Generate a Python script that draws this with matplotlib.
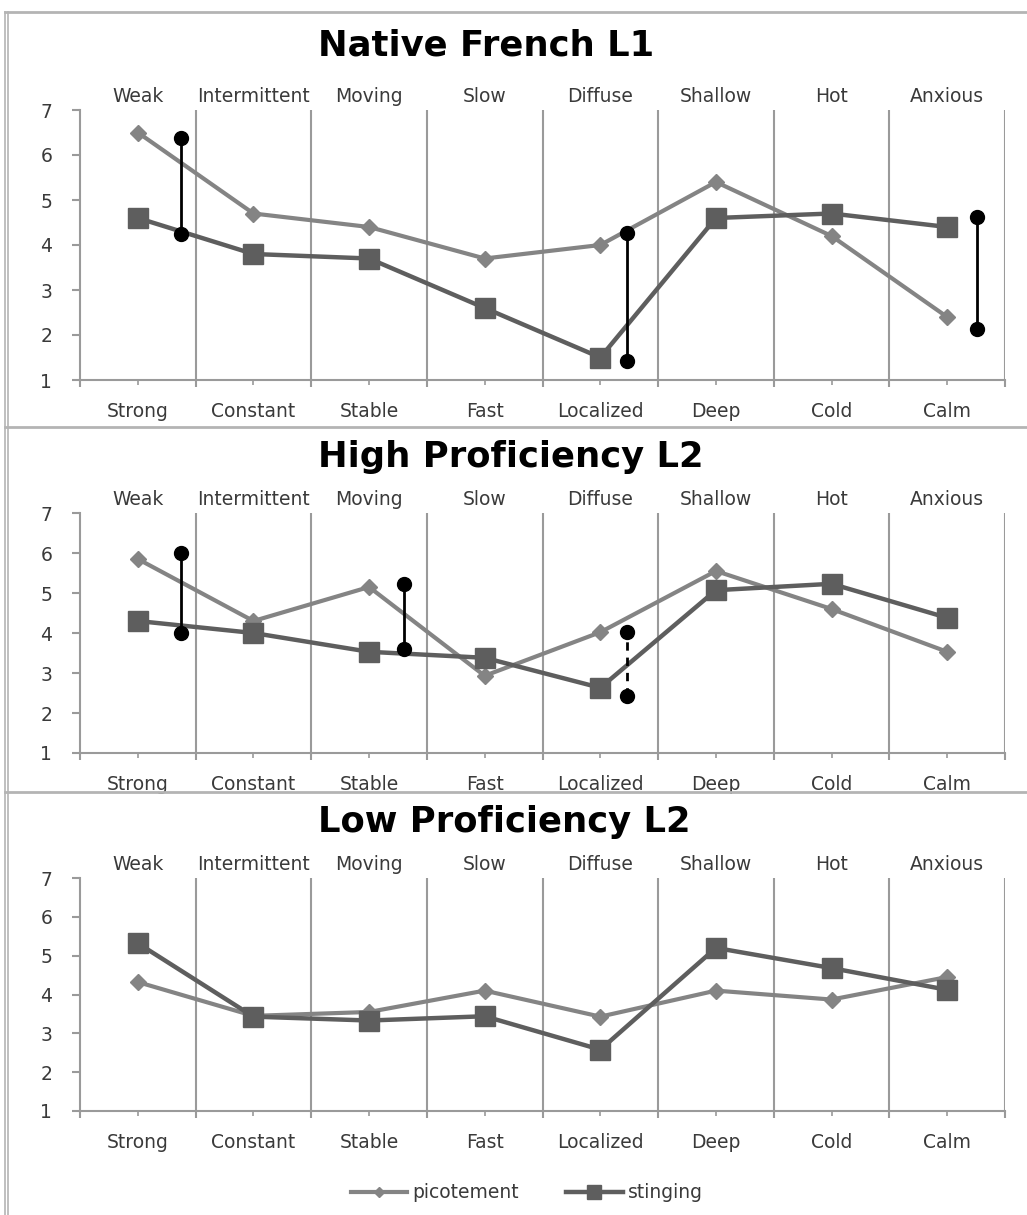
import numpy as np
import matplotlib
matplotlib.use("Agg")
import matplotlib.pyplot as plt
from matplotlib.lines import Line2D

# category labels (bottom axis / top axis)
bottom_labels = ["Strong", "Constant", "Stable", "Fast", "Localized", "Deep", "Cold", "Calm"]
top_labels = ["Weak", "Intermittent", "Moving", "Slow", "Diffuse", "Shallow", "Hot", "Anxious"]

titles = ["Native French L1", "High Proficiency L2", "Low Proficiency L2"]

# picotement values per panel
pic_native = [6.5, 4.7, 4.4, 3.7, 4.0, 5.4, 4.2, 2.4]
pic_high = [5.85, 4.3, 5.15, 2.93, 4.02, 5.55, 4.6, 3.53]
pic_low = [4.32, 3.45, 3.55, 4.1, 3.43, 4.1, 3.87, 4.45]

# stinging values per panel
sting_native = [4.6, 3.8, 3.7, 2.6, 1.5, 4.6, 4.7, 4.4]
sting_high = [4.3, 4.0, 3.53, 3.38, 2.63, 5.07, 5.23, 4.38]
sting_low = [5.32, 3.43, 3.33, 3.44, 2.58, 5.2, 4.68, 4.12]

# black difference markers: x position, low, high, dashed?
diff_native_x = [0.37, 4.23, 7.26]
diff_native_lo = [4.25, 1.43, 2.13]
diff_native_hi = [6.38, 4.26, 4.62]
diff_native_dash = [False, False, False]

diff_high_x = [0.37, 2.3, 4.23]
diff_high_lo = [4.0, 3.6, 2.42]
diff_high_hi = [6.0, 5.22, 4.02]
diff_high_dash = [False, False, True]

diff_low_x = []
diff_low_lo = []
diff_low_hi = []
diff_low_dash = []

panels = [
    (pic_native, sting_native, diff_native_x, diff_native_lo, diff_native_hi, diff_native_dash),
    (pic_high, sting_high, diff_high_x, diff_high_lo, diff_high_hi, diff_high_dash),
    (pic_low, sting_low, diff_low_x, diff_low_lo, diff_low_hi, diff_low_dash),
]

W, H = 1027, 1215
fig = plt.figure(figsize=(W / 100, H / 100), dpi=100)

# axes boxes in pixels: (top, bottom) of plot area, and title y / left x
ax_y = [(110, 380), (513, 753), (878, 1111)]
title_y = [45, 457, 822]
x0, x1 = 80, 1005

pic_color = "#848484"
sting_color = "#5e5e5e"
grid_color = "#9a9a9a"
text_color = "#3a3a3a"
lab_size = 13.5

for i, (pic, sting, dx, dlo, dhi, ddash) in enumerate(panels):
    top, bot = ax_y[i]
    ax = fig.add_axes([x0 / W, 1 - bot / H, (x1 - x0) / W, (bot - top) / H])
    xs = np.arange(len(bottom_labels))

    ax.set_xlim(-0.5, 7.5)
    ax.set_ylim(1, 7)

    # category separators
    bounds = np.arange(-0.5, 8.0, 1.0)
    ax.vlines(bounds[1:], 1, 7, color=grid_color, lw=1.5, zorder=1)

    ax.plot(xs, pic, color=pic_color, lw=3, marker="D", ms=8,
            mfc=pic_color, mec=pic_color, zorder=3, label="picotement")
    ax.plot(xs, sting, color=sting_color, lw=3.2, marker="s", ms=14,
            mfc=sting_color, mec=sting_color, zorder=4, label="stinging")

    for x, lo, hi, dash in zip(dx, dlo, dhi, ddash):
        ax.plot([x, x], [lo, hi], color="black", lw=2,
                ls=(0, (3, 2.5)) if dash else "-", zorder=5)
        ax.plot([x, x], [lo, hi], ls="none", marker="o", ms=10,
                color="black", zorder=6)

    for s in ["top", "right"]:
        ax.spines[s].set_visible(False)
    for s in ["left", "bottom"]:
        ax.spines[s].set_color(grid_color)
        ax.spines[s].set_linewidth(1.5)
    ax.spines["left"].set_bounds(1, 7)

    ax.set_yticks(range(1, 8))
    ax.tick_params(axis="y", length=6, width=1.5, color=grid_color,
                   labelsize=lab_size, labelcolor=text_color, pad=14)
    ax.set_xticks(xs)
    ax.set_xticklabels(bottom_labels)
    ax.set_xticks(bounds, minor=True)
    ax.tick_params(axis="x", which="major", length=3.6, width=1.2, color=grid_color,
                   labelsize=lab_size, labelcolor=text_color, pad=12)
    ax.tick_params(axis="x", which="minor", length=5, width=1.5, color=grid_color)

    ax2 = ax.twiny()
    ax2.set_xlim(ax.get_xlim())
    ax2.set_xticks(xs)
    ax2.set_xticklabels(top_labels)
    ax2.tick_params(axis="x", length=0, labelsize=lab_size, labelcolor=text_color, pad=3)
    for s in ax2.spines.values():
        s.set_visible(False)

    fig.text(318 / W, 1 - title_y[i] / H, titles[i], ha="left", va="center",
             fontsize=25.5, fontweight="bold", family="DejaVu Sans", color="black")

    if i == 2:
        handles, labels = ax.get_legend_handles_labels()
        fig.legend(handles, labels, loc="center", ncol=2,
                   bbox_to_anchor=(527 / W, 1 - 1193 / H), frameon=False,
                   fontsize=lab_size, labelcolor=text_color, handlelength=3.0,
                   columnspacing=2.5, handletextpad=0.3, markerscale=0.7)

# chart frame lines
frame = "#b4b4b4"
for y in [12, 427, 792]:
    fig.add_artist(Line2D([5 / W, 1], [1 - y / H, 1 - y / H], color=frame, lw=2))
for x in [5, 8]:
    fig.add_artist(Line2D([x / W, x / W], [1 - 12 / H, 0], color=frame, lw=1.2))

fig.savefig("out.png", dpi=100, facecolor="white")
